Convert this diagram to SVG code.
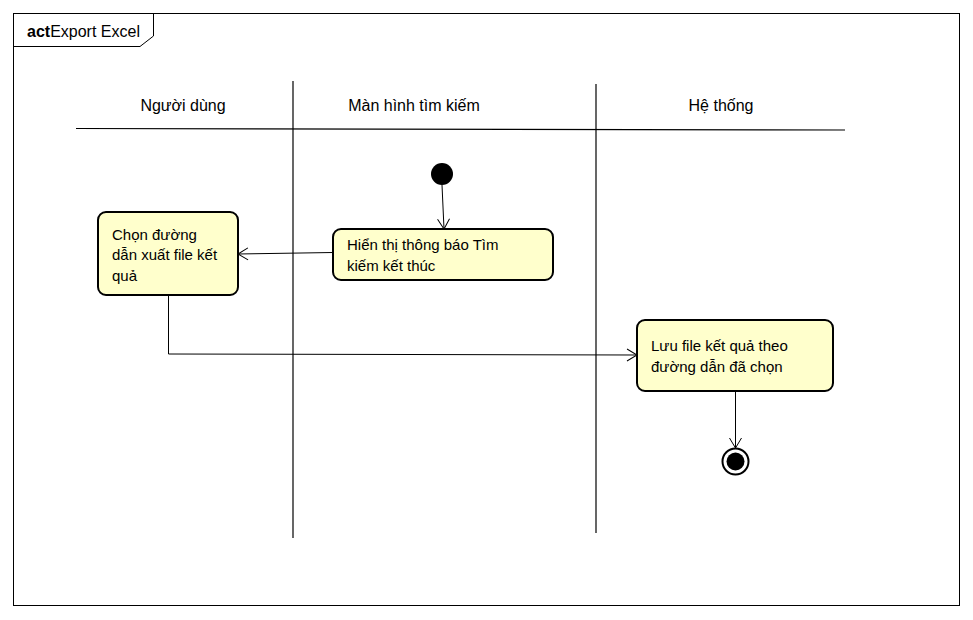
<svg xmlns="http://www.w3.org/2000/svg" width="973" height="620" viewBox="0 0 973 620">
<style>
text{font-family:"Liberation Sans",Arial,sans-serif;font-size:15px;fill:#000}
.big{font-size:16px}
.lane{stroke:#000;stroke-width:1.2;fill:none}
.node{fill:#ffffcc;stroke:#000;stroke-width:2}
.edge{stroke:#000;stroke-width:1;fill:none;marker-end:url(#arr)}
</style>
<defs>
<marker id="arr" markerWidth="12" markerHeight="14" refX="11" refY="7" orient="auto" markerUnits="userSpaceOnUse">
<path d="M1,1 L11,7 L1,13" fill="none" stroke="#000" stroke-width="1"/>
</marker>
</defs>
<rect width="973" height="620" fill="#fff"/>
<g id="frame">
<rect x="13.5" y="13.5" width="946" height="592" fill="none" stroke="#000" stroke-width="1"/>
<path d="M13.5,46.5 H140 L153.5,36 V13.5" fill="none" stroke="#000" stroke-width="1"/>
<text class="big" x="27" y="37"><tspan font-weight="bold">act</tspan>Export Excel</text>
</g>
<g id="lanes">
<line class="lane" x1="293" y1="81" x2="293" y2="538"/>
<line class="lane" x1="596" y1="84" x2="596" y2="533"/>
<line class="lane" x1="76" y1="128.5" x2="845" y2="130"/>
<text class="big" x="183" y="111" text-anchor="middle">Người dùng</text>
<text class="big" x="414" y="111" text-anchor="middle">Màn hình tìm kiếm</text>
<text class="big" x="721" y="111" text-anchor="middle">Hệ thống</text>
</g>
<g id="start"><circle cx="442" cy="174" r="11" fill="#000"/></g>
<g id="chon">
<rect class="node" x="98" y="212" width="140" height="83" rx="8"/>
<text x="112" y="240">Chọn đường</text>
<text x="112" y="260">dẫn xuất file kết</text>
<text x="112" y="281">quả</text>
</g>
<g id="hienthi">
<rect class="node" x="333" y="229" width="220" height="51" rx="8"/>
<text x="347" y="250">Hiển thị thông báo Tìm</text>
<text x="347" y="271">kiếm kết thúc</text>
</g>
<g id="luu">
<rect class="node" x="637" y="320" width="196" height="71" rx="8"/>
<text x="651" y="351">Lưu file kết quả theo</text>
<text x="651" y="372">đường dẫn đã chọn</text>
</g>
<g id="end">
<circle cx="735.5" cy="461.5" r="13" fill="#fff" stroke="#000" stroke-width="2"/>
<circle cx="735.5" cy="461.5" r="9" fill="#000"/>
</g>
<g id="connectors">
<path class="edge" d="M442,185 L444,229"/>
<path class="edge" d="M333,252.5 L238,254"/>
<path class="edge" d="M168.5,295 V354 L637,355"/>
<path class="edge" d="M735.5,391 V448"/>
</g>
</svg>
